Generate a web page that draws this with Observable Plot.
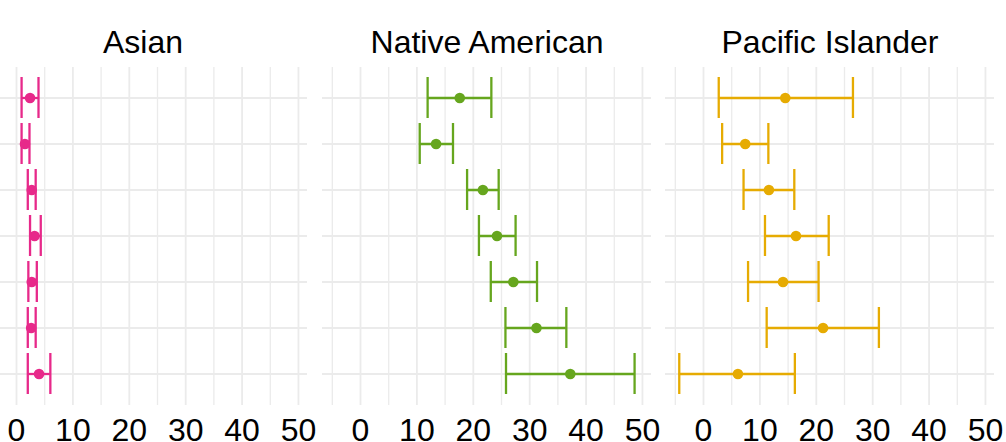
<!DOCTYPE html>
<html>
<head>
<meta charset="utf-8">
<script src="https://cdn.jsdelivr.net/npm/d3@7"></script>
<script src="https://cdn.jsdelivr.net/npm/@observablehq/plot@0.6"></script>
<style>
  html, body { margin: 0; padding: 0; background: #fff; overflow: hidden; }
  #chart { width: 1006px; height: 442px; overflow: hidden; position: relative; background: #fff; }
  #chart svg { position: absolute; top: 0; background: transparent; }
</style>
</head>
<body>
<div id="chart"></div>
<script>
// Panel (facet) names
const groups = ["Asian", "Native American", "Pacific Islander"];
// Row categories (their labels are cropped off in the reference)
const categories = ["Row 1", "Row 2", "Row 3", "Row 4", "Row 5", "Row 6", "Row 7"];
// X tick labels
const majorTicks = [0, 10, 20, 30, 40, 50];
const minorTicks = [-5, 5, 15, 25, 35, 45];

// Estimates and interval bounds per panel
const asianEst = [2.4, 1.5, 2.7, 3.2, 2.7, 2.6, 4.0];
const asianLo  = [0.9, 0.9, 2.0, 2.4, 2.1, 2.0, 2.0];
const asianHi  = [3.9, 2.3, 3.4, 4.3, 3.6, 3.4, 6.0];

const nativeEst = [17.6, 13.4, 21.7, 24.2, 27.1, 31.2, 37.2];
const nativeLo  = [11.9, 10.5, 18.9, 21.0, 23.1, 25.7, 25.8];
const nativeHi  = [23.2, 16.4, 24.5, 27.5, 31.3, 36.5, 48.6];

const pacificEst = [14.5, 7.4, 11.6, 16.4, 14.1, 21.2, 6.1];
const pacificLo  = [2.7, 3.3, 7.1, 10.9, 7.9, 11.2, -4.3];
const pacificHi  = [26.5, 11.5, 16.1, 22.2, 20.4, 31.1, 16.2];

const colors = ["#E7298A", "#66A61E", "#E6AB02"];

const series = [
  [asianEst, asianLo, asianHi],
  [nativeEst, nativeLo, nativeHi],
  [pacificEst, pacificLo, pacificHi]
];

const font = "'Liberation Sans', Arial, Helvetica, sans-serif";
const panelLefts = [-22, 322, 665];
const panelWidth = 329;
const pad = 24;

const chartDiv = document.getElementById("chart");

series.forEach(([est, lo, hi], g) => {
  const rows = categories.map((c, i) => ({cat: c, est: est[i], lo: lo[i], hi: hi[i]}));
  const color = colors[g];
  const svg = Plot.plot({
    width: panelWidth + 2 * pad,
    height: 442,
    marginLeft: pad,
    marginRight: pad,
    marginTop: 67,
    marginBottom: 37,
    style: {fontFamily: font, background: "transparent", color: "black", overflow: "visible"},
    x: {domain: [-6.74, 51.6], axis: null},
    y: {domain: categories, type: "band", paddingInner: 0.1, paddingOuter: 0.15, axis: null},
    marks: [
      Plot.gridX({ticks: minorTicks, stroke: "#EBEBEB", strokeOpacity: 1, strokeWidth: 1.3}),
      Plot.gridX({ticks: majorTicks, stroke: "#EBEBEB", strokeOpacity: 1, strokeWidth: 1.8}),
      Plot.gridY({stroke: "#EBEBEB", strokeOpacity: 1, strokeWidth: 2}),
      Plot.ruleY(rows, {y: "cat", x1: "lo", x2: "hi", stroke: color, strokeWidth: 2.3}),
      Plot.tickX(rows, {y: "cat", x: "lo", stroke: color, strokeWidth: 2.3}),
      Plot.tickX(rows, {y: "cat", x: "hi", stroke: color, strokeWidth: 2.3}),
      Plot.dot(rows, {y: "cat", x: "est", fill: color, r: 5.3}),
      Plot.axisX({ticks: majorTicks, tickSize: 0, tickPadding: 13, fontSize: 32, label: null, fill: "black"}),
      Plot.text([groups[g]], {text: d => d, frameAnchor: "top", lineAnchor: "bottom", dy: -14.3, fontSize: 32, fill: "black"})
    ]
  });
  svg.style.left = (panelLefts[g] - pad) + "px";
  chartDiv.appendChild(svg);
});
</script>
</body>
</html>
